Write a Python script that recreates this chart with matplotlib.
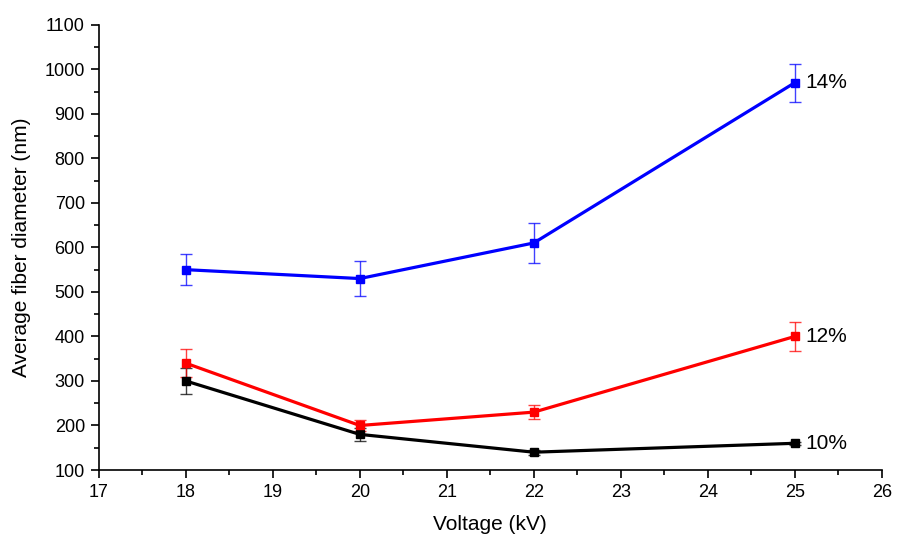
import matplotlib
matplotlib.use("Agg")
import matplotlib.pyplot as plt
from matplotlib.ticker import MultipleLocator

plt.rcParams['font.family'] = ['Liberation Sans', 'DejaVu Sans']

voltage = [18, 20, 22, 25]

d10 = [300, 180, 140, 160]
e10 = [30, 15, 6, 4]
d12 = [340, 200, 230, 400]
e12 = [32, 12, 15, 33]
d14 = [550, 530, 610, 970]
e14 = [35, 40, 45, 43]

labels = ['10%', '12%', '14%']

fig = plt.figure(figsize=(8.98, 5.39), dpi=100)
ax = fig.add_axes([0.110, 0.128, 0.872, 0.826])

series = [(d10, e10, 'black', labels[0]),
          (d12, e12, 'red', labels[1]),
          (d14, e14, 'blue', labels[2])]

for vals, errs, col, lab in series:
    eb = ax.errorbar(voltage, vals, yerr=errs, color=col, lw=2.3, marker='s', ms=6,
                     ecolor=col, elinewidth=1, capsize=4, capthick=1)
    for c in eb[1]:
        c.set_alpha(0.75)
    for c in eb[2]:
        c.set_alpha(0.75)
    ax.text(voltage[-1] + 0.12, vals[-1], lab, fontsize=15, va='center', ha='left')

ax.set_xlim(17, 26)
ax.set_ylim(100, 1100)
ax.xaxis.set_major_locator(MultipleLocator(1))
ax.xaxis.set_minor_locator(MultipleLocator(0.5))
ax.yaxis.set_major_locator(MultipleLocator(100))
ax.yaxis.set_minor_locator(MultipleLocator(50))
ax.tick_params(which='major', direction='out', length=6, width=1.2, labelsize=13, pad=4)
ax.tick_params(which='minor', direction='out', length=3.5, width=1.2)

ax.spines['top'].set_visible(False)
ax.spines['right'].set_visible(False)
ax.spines['left'].set_linewidth(1.2)
ax.spines['bottom'].set_linewidth(1.2)

ax.set_xlabel('Voltage (kV)', fontsize=15, labelpad=10)
ax.set_ylabel('Average fiber diameter (nm)', fontsize=15, labelpad=10)

fig.savefig('out.png', dpi=100)
